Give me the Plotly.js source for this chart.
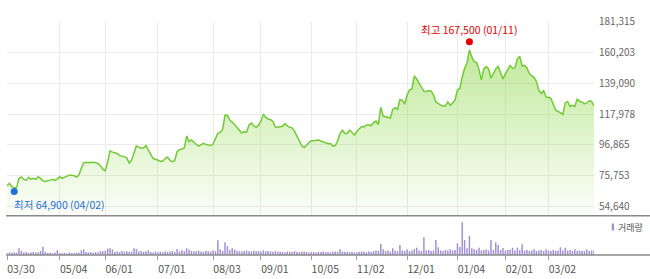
<!DOCTYPE html>
<html><head><meta charset="utf-8">
<script src="https://cdn.plot.ly/plotly-3.0.1.min.js"></script>
<style>html,body{margin:0;padding:0;background:#fff;}#chart{width:650px;height:279px;}</style>
</head><body><div id="chart"></div>
<script>
// x-axis tick labels and the trading-day index where each falls
const tickLabels = ['03/30','05/04','06/01','07/01','08/03','09/01','10/05','11/02','12/01','01/04','02/01','03/02'];
const tickIndex  = [0, 22, 41, 63, 86, 106, 127, 146, 167, 188, 208, 226];

// y-axis tick values
const yTickValues = [54640, 75753, 96865, 117978, 139090, 160203, 181315];

// daily closing price (one per trading day, 03/30 .. late March)
const closePrice = [
 68800,70400,68200,67400,67400,74000,74900,73200,72700,74700,
 73200,73900,73200,75000,73900,72200,71800,72000,72700,73200,
 72500,73600,75000,73900,74800,75700,76100,76000,75800,74800,
 76100,80900,84500,84900,84600,84900,85100,84800,84000,82600,
 80200,79100,85100,92800,91900,91400,91000,89500,89200,88800,
 87800,84400,86400,91200,96000,95300,94700,94700,96400,93300,
 90300,87500,87000,86100,85700,85700,87500,88500,86400,85400,
 86000,92300,93600,94000,94700,103000,99000,100200,98300,97100,
 96000,97100,97900,97200,96700,96400,97400,100800,104800,105400,
 107400,117300,117000,113900,112500,110800,108700,106700,105000,105900,
 105400,110500,111800,109800,108900,110500,113200,117800,115700,114600,
 114100,112900,109100,108900,109300,109600,111500,109800,108900,108500,
 106300,103200,100500,96400,95100,96400,98400,99700,99700,99800,
 100200,99500,98800,98100,97600,97800,96000,96400,99500,104600,
 106800,104600,104600,107000,105000,103600,106000,107800,109400,109200,
 110500,110500,110100,112200,113200,110800,122600,116600,116300,115800,
 115300,121100,122300,121100,128000,127300,124900,131100,134500,135200,
 144100,142000,139300,137200,133600,133400,133900,133800,131100,126300,
 125100,124100,123500,123500,126300,123900,125600,127600,134500,135500,
 143400,149300,152800,162000,157100,153900,153200,148600,141400,148900,
 150500,148900,142500,145500,148900,150600,146200,142000,145500,148900,
 151300,149400,149600,155800,157500,151000,151300,149600,145800,144100,
 143100,140000,134100,132100,134000,129700,129500,128700,125200,120800,
 119700,119000,117700,125600,126600,123200,124000,123200,128200,126700,
 126100,125100,125600,127100,126600,123500
];

// daily volume (thousand shares)
const volume = [
 200,250,220,280,240,670,400,250,300,220,
 260,300,240,280,400,830,300,200,220,180,
 250,470,200,180,220,160,250,200,180,230,
 250,470,570,300,250,280,220,300,260,400,
 380,420,630,670,550,300,350,280,400,320,
 380,300,350,670,600,350,400,300,380,470,
 300,250,350,280,320,260,380,300,350,400,
 300,600,350,470,380,670,550,400,350,380,
 420,350,300,400,380,320,470,380,1470,550,
 400,1270,870,500,670,550,420,380,350,400,
 450,380,350,420,380,400,350,470,380,400,
 350,300,380,320,350,300,280,350,320,300,
 380,300,280,320,350,300,250,280,300,260,
 320,300,350,280,300,250,320,350,300,570,
 350,300,320,280,300,250,280,300,350,320,
 280,350,300,380,450,400,1100,570,400,450,
 350,670,420,380,1000,450,400,570,380,450,
 600,730,450,400,1770,450,500,400,450,1500,
 770,450,400,500,450,570,450,500,1170,800,
 3270,1500,670,1930,670,570,500,730,450,500,
 550,450,1500,500,1270,1000,500,700,450,500,
 550,730,450,730,500,1070,450,500,400,450,
 570,400,450,500,400,570,450,400,500,420,
 450,770,450,730,450,500,400,570,400,450,
 420,380,570,400,450,420
];

// 52-week high / low markers
const highIndex = 193, highValue = 167500, highDate = '01/11';
const lowIndex = 3, lowValue = 64900, lowDate = '04/02';

const dayIndex = closePrice.map((_, i) => i);
const fmt = v => v.toLocaleString('en-US');

const W = 650, H = 279, ML = 7, MR = 56;
const PW = W - ML - MR;
const px = x => (x - ML) / PW;          // pixel -> paper x
const py = y => (H - y) / H;            // pixel -> paper y

const font = '"Noto Sans CJK KR", "Noto Sans", sans-serif';

const traces = [
  {
    x: dayIndex, y: closePrice, type: 'scatter', mode: 'lines',
    xaxis: 'x', yaxis: 'y',
    line: {color: '#70cb35', width: 1.5},
    fill: 'tozeroy',
    fillgradient: {type: 'vertical', start: 48330, stop: 165000,
      colorscale: [[0, 'rgba(140,215,70,0.03)'], [1, 'rgba(140,215,70,0.55)']]},
    hoverinfo: 'skip'
  },
  {
    x: [highIndex], y: [highValue], type: 'scatter', mode: 'markers',
    xaxis: 'x', yaxis: 'y', cliponaxis: false,
    marker: {color: '#e60000', size: 7}, hoverinfo: 'skip'
  },
  {
    x: [lowIndex], y: [lowValue], type: 'scatter', mode: 'markers',
    xaxis: 'x', yaxis: 'y', cliponaxis: false,
    marker: {color: '#1e6fe0', size: 7}, hoverinfo: 'skip'
  },
  {
    x: dayIndex, y: volume, type: 'bar', xaxis: 'x2', yaxis: 'y2',
    marker: {color: '#a28fd6'}, hoverinfo: 'skip'
  }
];

const layout = {
  width: W, height: H,
  margin: {l: ML, r: MR, t: 0, b: 0},
  paper_bgcolor: '#ffffff', plot_bgcolor: 'rgba(0,0,0,0)',
  showlegend: false,
  font: {family: font, size: 10, color: '#666'},
  bargap: 0.38,
  xaxis: {
    domain: [0, 1], anchor: 'y', range: [0, 245],
    tickvals: tickIndex, showticklabels: false, ticks: '',
    showgrid: true, gridcolor: '#ebebeb', gridwidth: 1,
    zeroline: false, showline: false, fixedrange: true
  },
  yaxis: {
    domain: [py(215.7), py(21.5)], range: [48330, 181400],
    side: 'right', tickvals: yTickValues, ticktext: yTickValues.map(fmt),
    ticks: '', ticklabelstandoff: 4,
    tickfont: {family: font, size: 10, color: '#666'},
    showgrid: true, gridcolor: '#ebebeb', gridwidth: 1,
    zeroline: false, showline: false, fixedrange: true
  },
  xaxis2: {
    domain: [0, 1], anchor: 'y2', matches: 'x', range: [0, 245],
    tickvals: tickIndex, ticktext: tickLabels,
    ticks: 'outside', ticklen: 4, tickcolor: '#a0a0a0', tickwidth: 1,
    ticklabelshift: 14, ticklabeloverflow: 'allow',
    tickfont: {family: font, size: 10.5, color: '#555'},
    showgrid: false, zeroline: false, showline: false, fixedrange: true
  },
  yaxis2: {
    domain: [py(255), py(218)], range: [0, 3700],
    showgrid: false, showticklabels: false, ticks: '',
    zeroline: false, showline: false, fixedrange: true
  },
  shapes: [
    {type: 'line', xref: 'paper', yref: 'paper', x0: px(6), x1: px(650), y0: py(215.7), y1: py(215.7),
     line: {color: '#8a8a8a', width: 1.5}},
    {type: 'line', xref: 'paper', yref: 'paper', x0: px(6), x1: px(650), y0: py(255), y1: py(255),
     line: {color: '#8a8a8a', width: 1.3}},
    {type: 'rect', xref: 'paper', yref: 'paper', x0: px(611.7), x1: px(614), y0: py(230.5), y1: py(223.5),
     fillcolor: '#a28fd6', line: {width: 0}}
  ],
  annotations: [
    {xref: 'x', yref: 'y', x: highIndex, y: highValue, text: '최고 ' + fmt(highValue) + ' (' + highDate + ')',
     showarrow: false, xanchor: 'center', yanchor: 'middle', yshift: 12,
     font: {family: font, size: 10.5, color: '#e60000'}},
    {xref: 'x', yref: 'y', x: lowIndex, y: lowValue, text: '최저 ' + fmt(lowValue) + ' (' + lowDate + ')',
     showarrow: false, xanchor: 'left', yanchor: 'middle', yshift: -12.5, xshift: -2,
     font: {family: font, size: 10.5, color: '#1e6fe0'}},
    {xref: 'paper', yref: 'paper', x: px(615.5), y: py(227), text: '거래량',
     showarrow: false, xanchor: 'left', yanchor: 'middle',
     font: {family: font, size: 9, color: '#555'}}
  ]
};

Plotly.newPlot('chart', traces, layout, {staticPlot: true, displayModeBar: false});
</script>
</body></html>
